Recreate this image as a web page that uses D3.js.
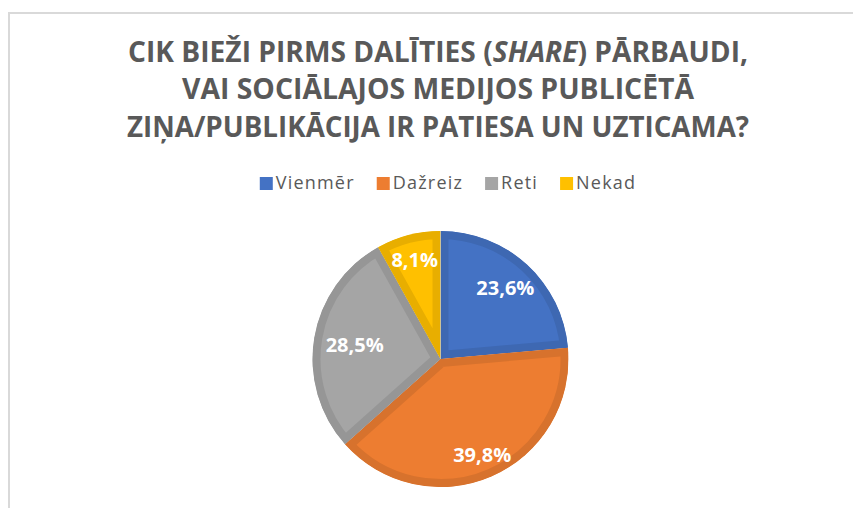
<!DOCTYPE html>
<html>
<head>
<meta charset="utf-8">
<script src="https://cdn.jsdelivr.net/npm/d3@7"></script>
<style>
  body { margin: 0; background: #fff; }
  svg { display: block; }
</style>
</head>
<body>
<div id="chart"></div>
<script>
// data
var categories = ["Vienmēr", "Dažreiz", "Reti", "Nekad"];
var values = [23.6, 39.8, 28.5, 8.1];
var colors = ["#4472C4", "#ED7D31", "#A5A5A5", "#FFC000"];
var titleLines = [
  ["CIK BIEŽI PIRMS DALĪTIES (", "SHARE", ") PĀRBAUDI,"],
  ["VAI SOCIĀLAJOS MEDIJOS PUBLICĒTĀ"],
  ["ZIŅA/PUBLIKĀCIJA IR PATIESA UN UZTICAMA?"]
];

var svgWidth = 853;
var svgHeight = 508;

var svg = d3.select("#chart").append("svg")
  .attr("width", svgWidth)
  .attr("height", svgHeight);

// chart frame (runs off the right / bottom edge)
svg.append("rect")
  .attr("x", 9).attr("y", 13)
  .attr("width", 860).attr("height", 520)
  .attr("fill", "#fff")
  .attr("stroke", "#d9d9d9")
  .attr("stroke-width", 2);

// title
var titleWidths = [620, 512, 622];
var title = svg.append("g")
  .attr("font-family", "'Open Sans', sans-serif")
  .attr("font-weight", "bold")
  .attr("font-size", 28)
  .attr("fill", "#595959")
  .attr("text-anchor", "middle");

titleLines.forEach(function(parts, i) {
  var t = title.append("text")
    .attr("x", 438)
    .attr("y", 61.5 + i * 37.5)
    .attr("textLength", titleWidths[i])
    .attr("lengthAdjust", "spacingAndGlyphs");
  parts.forEach(function(p, j) {
    t.append("tspan")
      .attr("font-style", (i == 0 && j == 1) ? "italic" : null)
      .text(p);
  });
});

// legend
var legend = svg.append("g")
  .attr("font-family", "'Open Sans', sans-serif")
  .attr("font-size", 18)
  .attr("fill", "#595959");

var lx = 0;
categories.forEach(function(c, i) {
  var g = legend.append("g");
  g.append("rect")
    .attr("x", 0).attr("y", -12)
    .attr("width", 13).attr("height", 13)
    .attr("fill", colors[i]);
  var txt = g.append("text")
    .attr("x", 16).attr("y", 0)
    .attr("letter-spacing", 1.2)
    .text(c);
  var w = txt.node().getComputedTextLength();
  g.attr("transform", "translate(" + lx + ",0)");
  lx += 16 + w + 22;
});
lx -= 22;
legend.attr("transform", "translate(" + (448 - lx / 2) + ",189)");

// pie
var cx = 440.5, cy = 359, radius = 128;

var pie = d3.pie().sort(null).value(function(d) { return d; });
var arc = d3.arc().innerRadius(0).outerRadius(radius);
var arcs = pie(values);

var defs = svg.append("defs");
var pieG = svg.append("g")
  .attr("transform", "translate(" + cx + "," + cy + ")");

// each slice: darker inner band along its edges (clipped stroke)
arcs.forEach(function(a, i) {
  defs.append("clipPath")
    .attr("id", "clip" + i)
    .append("path")
    .attr("d", arc(a));
  pieG.append("path")
    .attr("d", arc(a))
    .attr("fill", colors[i])
    .attr("stroke", d3.color(colors[i]).darker(0.27))
    .attr("stroke-width", 16)
    .attr("stroke-linejoin", "miter")
    .attr("clip-path", "url(#clip" + i + ")");
});

// data labels
var labelR = [0.75, 0.82, 0.68, 0.8];
pieG.selectAll(".lbl")
  .data(arcs)
  .enter().append("text")
  .attr("class", "lbl")
  .attr("transform", function(d, i) {
    var a = (d.startAngle + d.endAngle) / 2;
    var r = radius * labelR[i];
    return "translate(" + (Math.sin(a) * r) + "," + (-Math.cos(a) * r) + ")";
  })
  .attr("dy", "0.35em")
  .attr("text-anchor", "middle")
  .attr("font-family", "'Open Sans', sans-serif")
  .attr("font-weight", "bold")
  .attr("font-size", 20)
  .attr("fill", "#fff")
  .text(function(d) { return d.value.toFixed(1).replace(".", ",") + "%"; });
</script>
</body>
</html>
